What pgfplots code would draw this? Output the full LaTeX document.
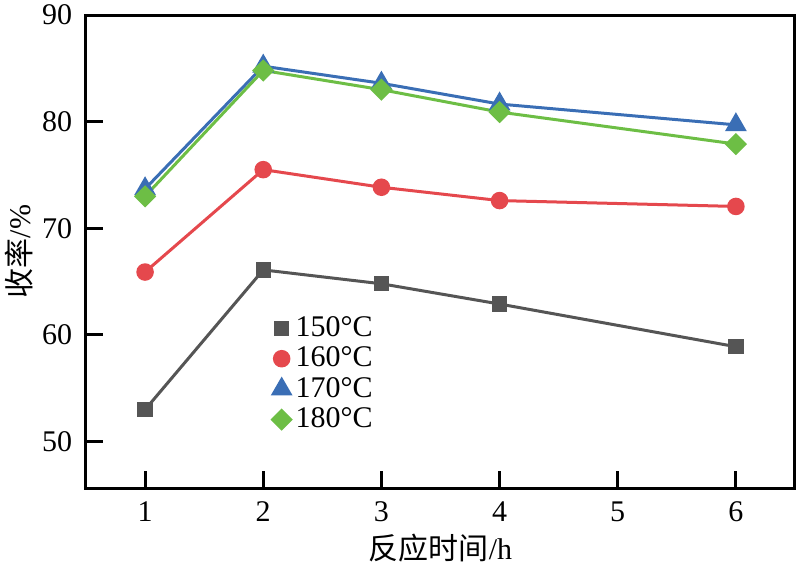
\documentclass[border=0pt]{standalone}
\usepackage{fontspec}
\setmainfont{Liberation Serif}
\newfontfamily\cjk{Noto Sans CJK SC}
\usepackage{pgfplots}
\pgfplotsset{compat=1.18}
\definecolor{cA}{HTML}{555555}
\definecolor{cB}{HTML}{E5484D}
\definecolor{cC}{HTML}{3A6EB5}
\definecolor{cD}{HTML}{6DBE45}
\begin{document}
\begin{tikzpicture}[font=\fontsize{12}{14.4}\selectfont]
\path[use as bounding box] (-34.4pt,-33.6pt) rectangle (287.6pt,195.2pt);
\begin{axis}[at={(0,0)}, anchor=south west, scale only axis,
  width=283.6pt, height=189.2pt,
  xmin=0.5, xmax=6.5, ymin=45.65, ymax=90,
  xtick={1,2,3,4,5,6}, ytick={50,60,70,80,90},
  tick align=inside, xtick pos=bottom, ytick pos=left,
  major tick length=6.8pt,
  axis line style={line width=1.2pt, black},
  every tick/.style={line width=1.2pt, black},
  /pgf/number format/assume math mode=true,
  tick label style={font=\fontsize{12}{14.4}\selectfont},
  yticklabel style={xshift=-2pt},
  xticklabel style={yshift=-2pt},
  xlabel={{\cjk 反应时间}/h},
  ylabel={{\cjk 收率}/\%},
  xlabel style={at={(axis description cs:0.5,-0.127)}, anchor=center},
  ylabel style={at={(axis description cs:-0.095,0.5)}, anchor=center},
  legend style={at={(axis description cs:0.252,0.385)}, anchor=north west,
    draw=none, fill=none, row sep=-1.3pt, font=\fontsize{12}{14.4}\selectfont},
  legend cell align=left,
  legend image code/.code={\draw[#1] plot coordinates {(0.1cm,0cm)};},
  every axis plot/.append style={line width=1.2pt},
]
\addplot[cA, mark=square*, mark size=2.47pt] coordinates {(1,53.0) (2,66.1) (3,64.8) (4,62.9) (6,58.9)};
\addlegendentry{150°C}
\addplot[cB, mark=*, mark size=2.9pt] coordinates {(1,65.9) (2,75.5) (3,73.85) (4,72.6) (6,72.05)};
\addlegendentry{160°C}
\addplot[cC, mark=triangle*, mark size=3.85pt] coordinates {(1,73.7) (2,85.2) (3,83.6) (4,81.65) (6,79.7)};
\addlegendentry{170°C}
\addplot[cD, mark=square*, mark size=2.55pt, mark options={rotate=45}] coordinates {(1,73.0) (2,84.8) (3,83.0) (4,80.9) (6,77.9)};
\addlegendentry{180°C}
\end{axis}
\end{tikzpicture}
\end{document}
